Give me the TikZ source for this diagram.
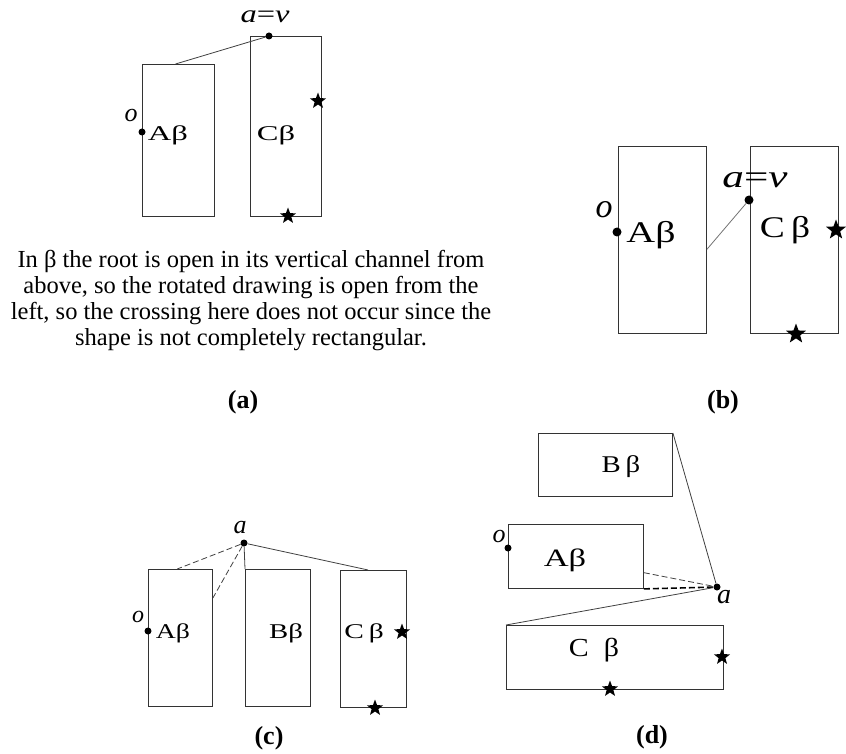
\documentclass[tikz,border=0pt]{standalone}
\usepackage{graphicx}
\usepackage{fontspec}
\setmainfont{Liberation Serif}
\usetikzlibrary{shapes.geometric, positioning, calc}
\newcommand{\xstretch}[2]{\scalebox{#1}[1]{#2}}

\begin{document}
\begin{tikzpicture}[
    x=1pt, y=-1pt,
    box/.style={draw=black!80, line width=0.9pt, rectangle, inner sep=0pt, anchor=north west},
    dot/.style={circle, fill=black, inner sep=0pt, minimum size=7pt},
    starmark/.style={star, star points=5, star point ratio=2.4, fill=black, inner sep=0pt, minimum size=#1},
    lbl/.style={inner sep=0pt, font=\fontsize{#1}{#1}\selectfont},
    caption/.style={inner sep=0pt, font=\fontsize{26}{28}\selectfont\bfseries},
    edge/.style={draw=black!75, line width=0.8pt},
    dashedge/.style={edge, dash pattern=on 6pt off 3pt}
]
\useasboundingbox (0,0) rectangle (846,754);

\node[box, minimum width=72pt, minimum height=152pt] (A1) at (142,64) {};
\node[box, minimum width=71pt, minimum height=180pt] (C1) at (250,36) {};
\node[dot] (v1) at (269,36) {};
\node[dot] (o1) at (142,132) {};
\node[lbl=25] (v1l) at (265,17) {\xstretch{1.3}{\textit{a}=\textit{v}}};
\node[lbl=26] (o1l) at (131,116) {\textit{o}};
\node[lbl=21] (A1l) at (168,135) {\xstretch{1.55}{Aβ}};
\node[lbl=21] (C1l) at (276,135) {\xstretch{1.55}{Cβ}};
\node[starmark=17pt] (s1a) at (318,101) {};
\node[starmark=17pt] (s1b) at (288,216) {};
\draw[edge] ($(A1.north west)!0.46!(A1.north east)$) -- (v1);
\node[align=center, inner sep=0pt, font=\fontsize{24.5}{26}\selectfont] (note) at (251,301)
    {In β the root is open in its vertical channel from\\above, so the rotated drawing is open from the\\left, so the crossing here does not occur since the\\shape is not completely rectangular.};
\node[caption] (capa) at (243,402) {(a)};

\node[box, minimum width=88pt, minimum height=187pt] (A2) at (618,146) {};
\node[box, minimum width=88pt, minimum height=187pt] (C2) at (750,146) {};
\node[dot, minimum size=9pt] (v2) at (749,200) {};
\node[dot, minimum size=9pt] (o2) at (617,232) {};
\node[lbl=32] (v2l) at (755,180) {\xstretch{1.35}{\textit{a}=\textit{v}}};
\node[lbl=34] (o2l) at (604,210) {\textit{o}};
\node[lbl=30] (A2l) at (651,235) {\xstretch{1.33}{Aβ}};
\node[lbl=30] (C2l) at (785,230) {\xstretch{1.25}{C\,β}};
\node[starmark=21pt] (s2a) at (836,230) {};
\node[starmark=21pt] (s2b) at (796,334) {};
\draw[edge, draw=black!55] ($(A2.north east)!0.55!(A2.south east)$) -- (v2);
\node[caption] (capb) at (723,402) {(b)};

\node[box, minimum width=64pt, minimum height=137pt] (A3) at (148,569) {};
\node[box, minimum width=65pt, minimum height=137pt] (B3) at (245,569) {};
\node[box, minimum width=66pt, minimum height=137pt] (C3) at (340,570) {};
\node[dot] (a3) at (244,543) {};
\node[dot] (o3) at (148,631) {};
\node[lbl=26] (a3l) at (240,528) {\textit{a}};
\node[lbl=24] (o3l) at (138,617) {\textit{o}};
\node[lbl=21] (A3l) at (173,633) {\xstretch{1.32}{Aβ}};
\node[lbl=21] (B3l) at (286,633) {\xstretch{1.37}{Bβ}};
\node[lbl=21] (C3l) at (364,633) {\xstretch{1.4}{C\,β}};
\node[starmark=17pt] (s3a) at (402,632) {};
\node[starmark=17pt] (s3b) at (375,708) {};
\draw[dashedge] (a3) -- ($(A3.north west)!0.45!(A3.north east)$);
\draw[dashedge] (a3) -- ($(A3.north east)!0.21!(A3.south east)$);
\draw[edge] (a3) -- (B3.north west);
\draw[edge] (a3) -- ($(C3.north west)!0.42!(C3.north east)$);
\node[caption] (capc) at (269,738) {(c)};

\node[box, minimum width=134pt, minimum height=63pt] (B4) at (538,433) {};
\node[box, minimum width=135pt, minimum height=64pt] (A4) at (508,524) {};
\node[box, minimum width=217pt, minimum height=64pt] (C4) at (506,625) {};
\node[dot] (a4) at (717,587) {};
\node[dot] (o4) at (508,548) {};
\node[lbl=28] (a4l) at (724,597) {\textit{a}};
\node[lbl=26] (o4l) at (499,536) {\textit{o}};
\node[lbl=24] (B4l) at (621,467) {\xstretch{1.2}{B\,β}};
\node[lbl=25] (A4l) at (565,560) {\xstretch{1.38}{Aβ}};
\node[lbl=26] (C4l) at (594,650) {\xstretch{1.15}{C\enspace β}};
\node[starmark=17pt] (s4a) at (722,657) {};
\node[starmark=17pt] (s4b) at (610,689) {};
\draw[edge] (B4.north east) -- (a4);
\draw[dashedge] ($(A4.north east)!0.75!(A4.south east)$) -- (a4);
\draw[dashedge, line width=1.6pt, draw=black] (A4.south east) -- (a4);
\draw[edge] (C4.north west) -- (a4);
\node[caption] (capd) at (652,737) {(d)};

\end{tikzpicture}
\end{document}
